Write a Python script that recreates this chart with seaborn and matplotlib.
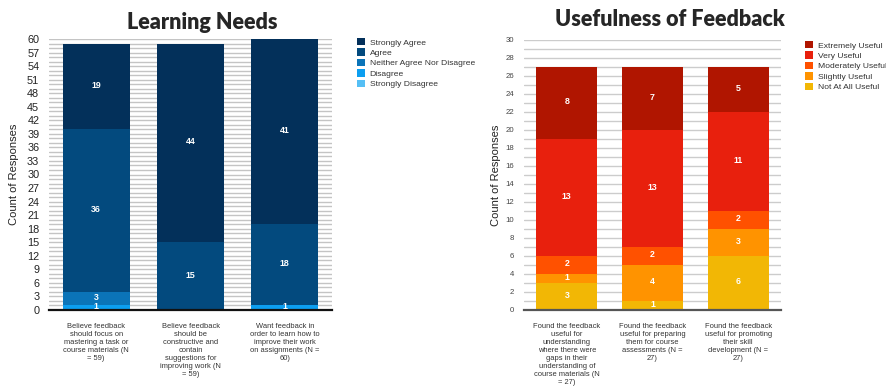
import matplotlib
matplotlib.use("Agg")
import matplotlib.pyplot as plt
from matplotlib.patches import Patch
import numpy as np
import seaborn as sns

# ---- Learning Needs ----
needs_categories = [
    "Believe feedback\nshould focus on\nmastering a task or\ncourse materials (N\n= 59)",
    "Believe feedback\nshould be\nconstructive and\ncontain\nsuggestions for\nimproving work (N\n= 59)",
    "Want feedback in\norder to learn how to\nimprove their work\non assignments (N =\n60)",
]
needs_levels = ["Strongly Agree", "Agree", "Neither Agree Nor Disagree",
                "Disagree", "Strongly Disagree"]
strongly_agree = [19, 44, 41]
agree = [36, 15, 18]
neither = [3, 0, 0]
disagree = [1, 0, 1]
strongly_disagree = [0, 0, 0]
needs_colors = ["#03305a", "#034a7e", "#0b74b8", "#0c9ef0", "#55bff5"]

# ---- Usefulness of Feedback ----
useful_categories = [
    "Found the feedback\nuseful for\nunderstanding\nwhere there were\ngaps in their\nunderstanding of\ncourse materials (N\n= 27)",
    "Found the feedback\nuseful for preparing\nthem for course\nassessments (N =\n27)",
    "Found the feedback\nuseful for promoting\ntheir skill\ndevelopment (N =\n27)",
]
useful_levels = ["Extremely Useful", "Very Useful", "Moderately Useful",
                 "Slightly Useful", "Not At All Useful"]
extremely_useful = [8, 7, 5]
very_useful = [13, 13, 11]
moderately_useful = [2, 2, 2]
slightly_useful = [1, 4, 3]
not_useful = [3, 1, 6]
useful_colors = ["#b01500", "#e8200d", "#ff5100", "#ff9300", "#f2b705"]

sns.set_theme(style="white")
plt.rcParams["font.family"] = ["Liberation Sans", "DejaVu Sans"]

fig = plt.figure(figsize=(8.86, 3.92), dpi=100)
ax1 = fig.add_axes([49 / 886, 1 - 310 / 392, 283 / 886, 271 / 392])
ax2 = fig.add_axes([524 / 886, 1 - 310 / 392, 257 / 886, 270 / 392])


def stacked(ax, cats, series, colors, ymax, major, grid_color, tick_color,
            tick_size, base_color, ylabel_pad):
    # series ordered top -> bottom; stack from the bottom
    bottom_up = series[::-1]
    cum = np.cumsum(np.array(bottom_up, dtype=float), axis=0)
    tops = cum[::-1]  # cumulative top of each level, top level first
    # draw tallest first so lower segments overlay
    for level_top, col in zip(tops, colors):
        sns.barplot(x=cats, y=level_top, color=col, saturation=1,
                    width=0.71, ax=ax, zorder=3, linewidth=0)
    # value labels
    for level_vals, level_top in zip(series, tops):
        for i, (v, t) in enumerate(zip(level_vals, level_top)):
            if v > 0:
                ax.text(i, t - v / 2 + ymax * 0.004, str(v), ha="center",
                        va="center", color="white", fontsize=6.3,
                        fontweight="bold", zorder=5)
    ax.set_ylim(0, ymax)
    ax.set_xlim(-0.5, 2.5)
    ax.set_yticks(np.arange(0, ymax + 1, major))
    ax.set_yticks(np.arange(0, ymax + 1, 1), minor=True)
    ax.yaxis.grid(True, which="both", color=grid_color, linewidth=1.0,
                  zorder=0)
    ax.xaxis.grid(False)
    ax.set_axisbelow(True)
    for s in ["top", "right", "left"]:
        ax.spines[s].set_visible(False)
    ax.spines["bottom"].set_color(base_color)
    ax.spines["bottom"].set_linewidth(1.6)
    ax.spines["bottom"].set_zorder(4)
    ax.tick_params(axis="y", which="both", length=0, pad=7,
                   labelsize=tick_size, labelcolor=tick_color)
    ax.tick_params(axis="x", length=0, pad=9, labelsize=5.4,
                   labelcolor="#333333")
    for lab in ax.get_xticklabels():
        lab.set_linespacing(1.22)
        lab.set_va("top")
    ax.set_xlabel("")
    ax.set_ylabel("Count of Responses", fontsize=8, color="#222222",
                  labelpad=ylabel_pad)


stacked(ax1, needs_categories,
        [strongly_agree, agree, neither, disagree, strongly_disagree],
        needs_colors, 60, 3, "#c4c4c4", "#222222", 7.8, "#111111", 6)
stacked(ax2, useful_categories,
        [extremely_useful, very_useful, moderately_useful, slightly_useful,
         not_useful],
        useful_colors, 30, 2, "#cccccc", "#444444", 5.6, "#555555", 3)

# titles
fig.text(202 / 886, 1 - 29 / 392, "Learning Needs", ha="center",
         va="baseline", fontsize=15.5, fontweight="heavy",
         family=["Lato", "DejaVu Sans"])
fig.text(670 / 886, 1 - 26 / 392, "Usefulness of Feedback", ha="center",
         va="baseline", fontsize=15.5, fontweight="heavy",
         family=["Lato", "DejaVu Sans"])

# legends
def legend(levels, colors, x, y):
    handles = [Patch(facecolor=c, edgecolor="none") for c in colors]
    lg = fig.legend(handles, levels, loc="upper left",
                    bbox_to_anchor=(x, y), frameon=False, fontsize=6.1,
                    handlelength=0.95, handleheight=0.95, handletextpad=0.55,
                    labelspacing=0.22, borderpad=0, borderaxespad=0)
    for t in lg.get_texts():
        t.set_color("#333333")


legend(needs_levels, needs_colors, 357 / 886, 1 - 38 / 392)
legend(useful_levels, useful_colors, 805 / 886, 1 - 41 / 392)

fig.savefig("out.png", dpi=100)
